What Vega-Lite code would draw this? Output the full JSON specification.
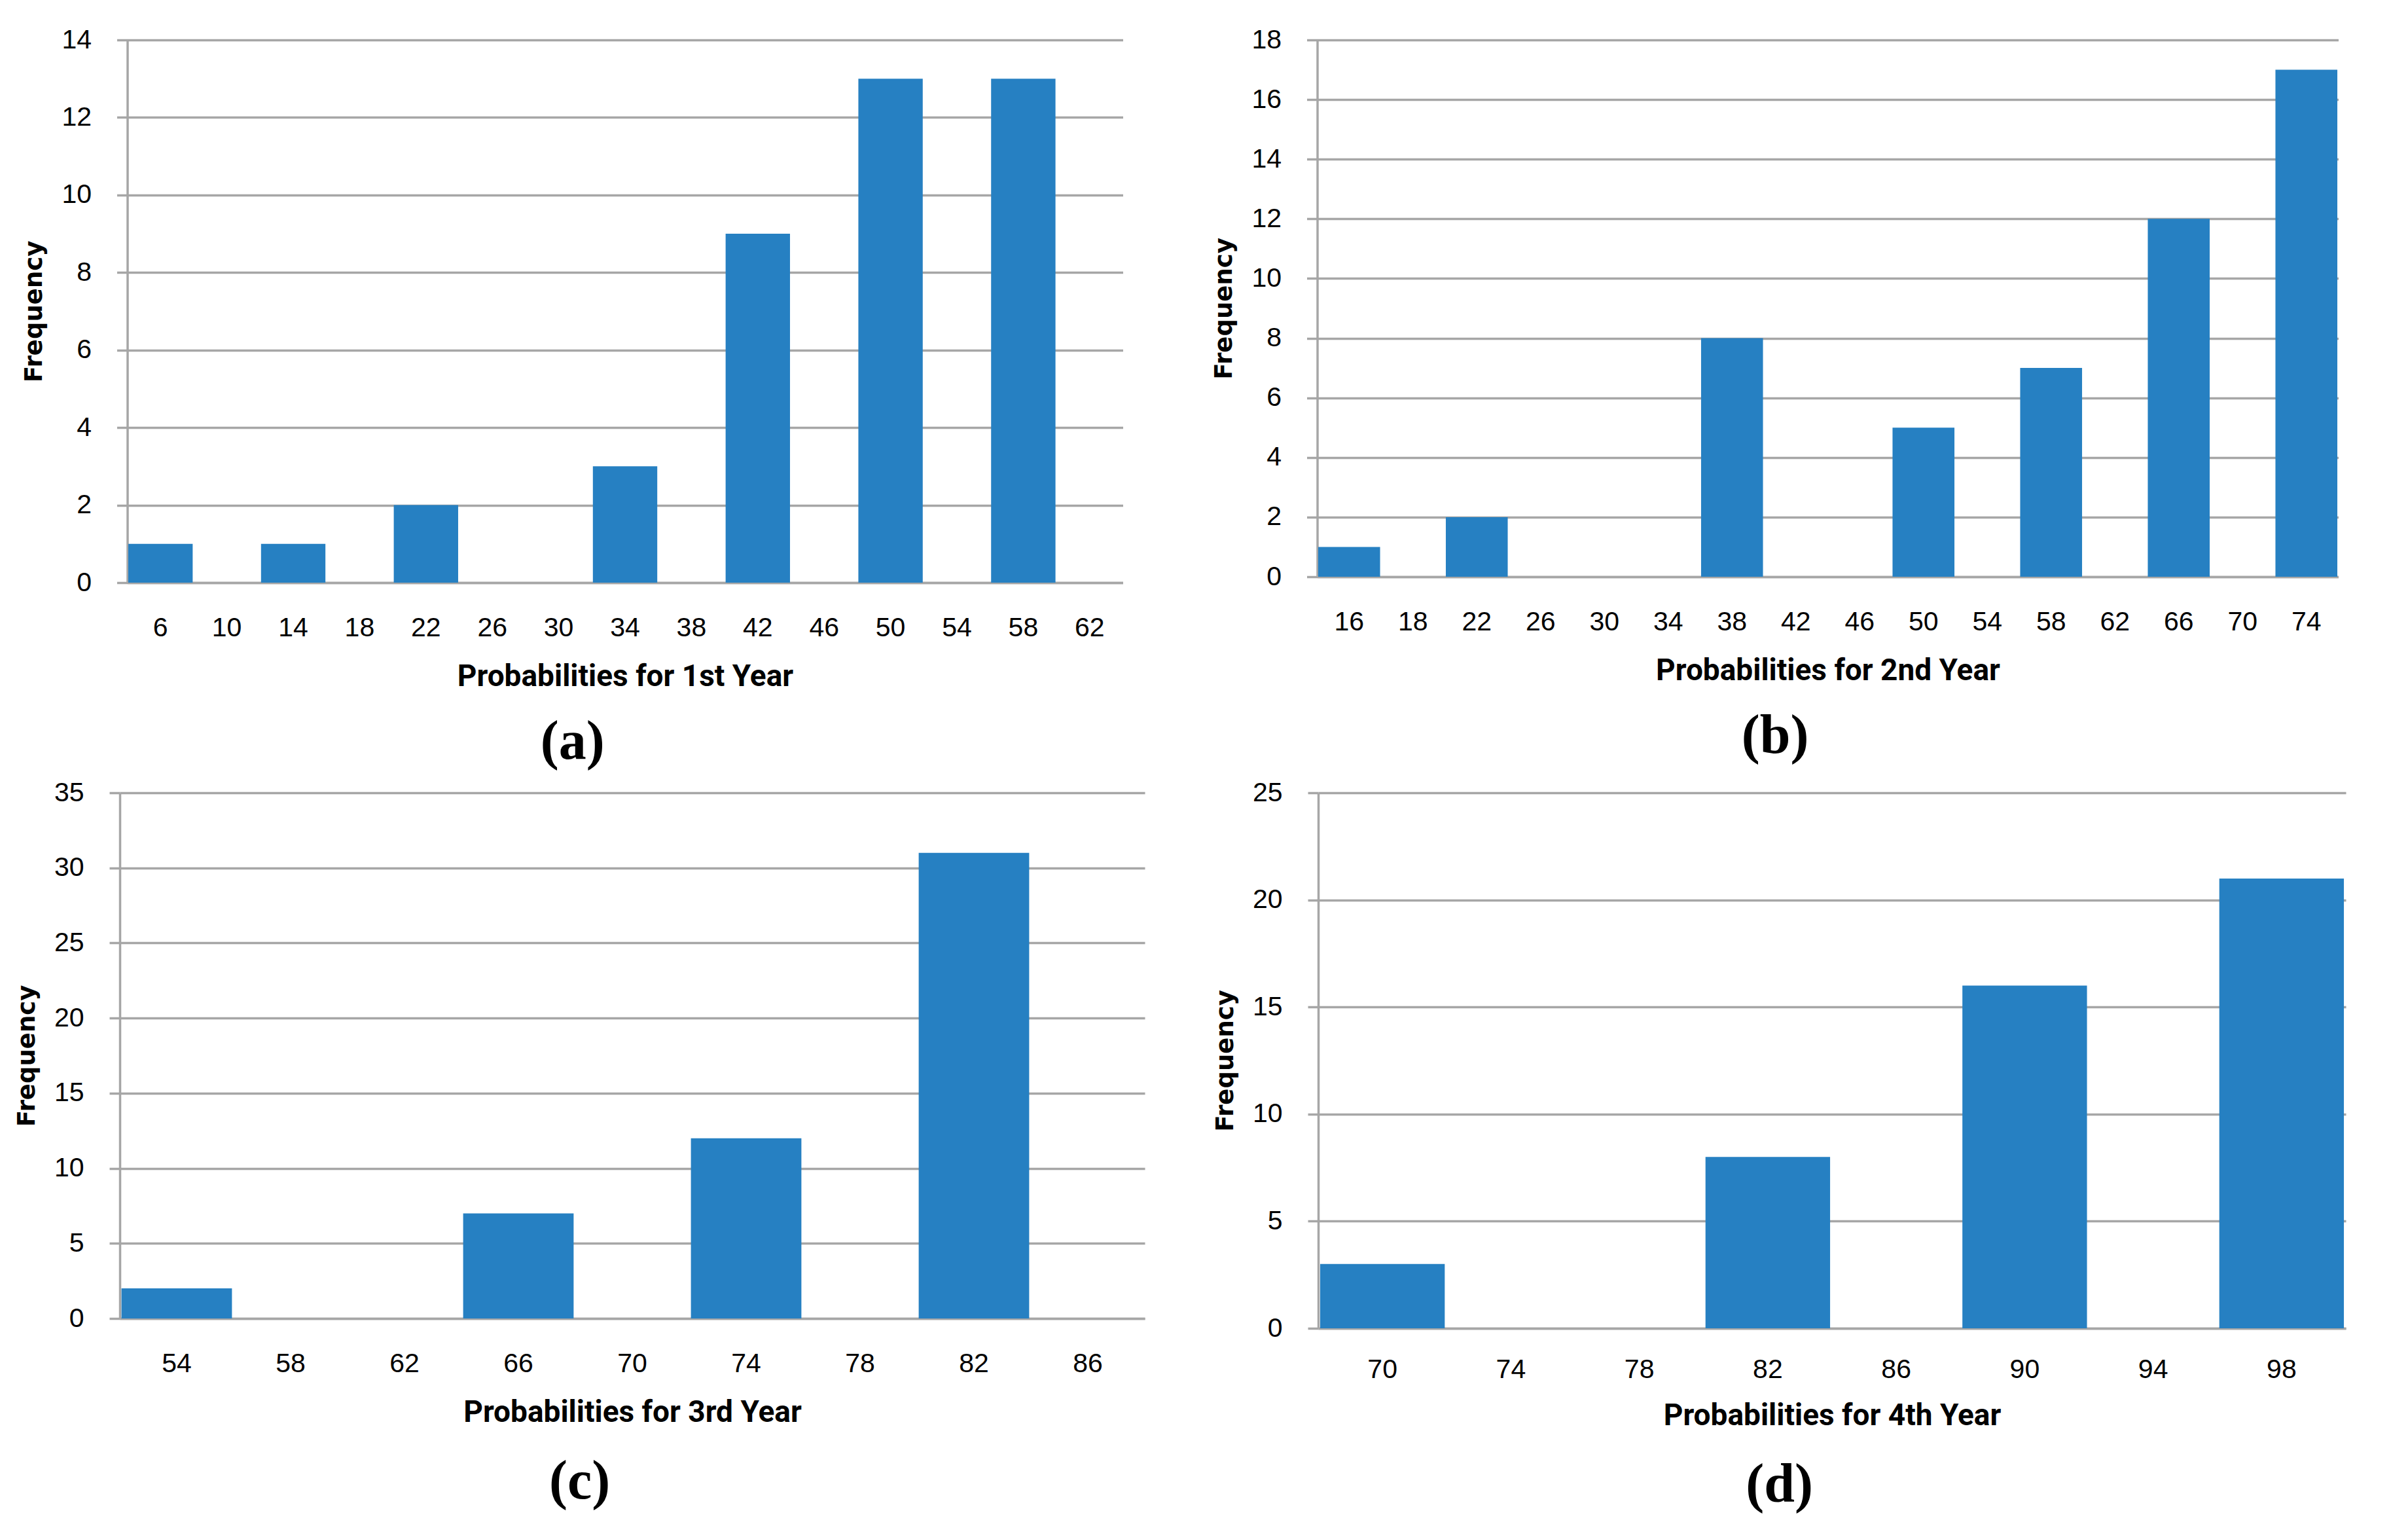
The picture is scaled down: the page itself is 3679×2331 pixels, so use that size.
{
  "$schema": "https://vega.github.io/schema/vega-lite/v6.json",
  "padding": {"left": 22, "top": 40, "right": 20, "bottom": 20},
  "autosize": {"type": "pad"},
  "background": "white",
  "data": {"values": [
    {"panel": "a", "prob": 6, "freq": 1}, {"panel": "a", "prob": 10, "freq": 0}, {"panel": "a", "prob": 14, "freq": 1},
    {"panel": "a", "prob": 18, "freq": 0}, {"panel": "a", "prob": 22, "freq": 2}, {"panel": "a", "prob": 26, "freq": 0},
    {"panel": "a", "prob": 30, "freq": 0}, {"panel": "a", "prob": 34, "freq": 3}, {"panel": "a", "prob": 38, "freq": 0},
    {"panel": "a", "prob": 42, "freq": 9}, {"panel": "a", "prob": 46, "freq": 0}, {"panel": "a", "prob": 50, "freq": 13},
    {"panel": "a", "prob": 54, "freq": 0}, {"panel": "a", "prob": 58, "freq": 13}, {"panel": "a", "prob": 62, "freq": 0},
    {"panel": "b", "prob": 16, "freq": 1}, {"panel": "b", "prob": 18, "freq": 0}, {"panel": "b", "prob": 22, "freq": 2},
    {"panel": "b", "prob": 26, "freq": 0}, {"panel": "b", "prob": 30, "freq": 0}, {"panel": "b", "prob": 34, "freq": 0},
    {"panel": "b", "prob": 38, "freq": 8}, {"panel": "b", "prob": 42, "freq": 0}, {"panel": "b", "prob": 46, "freq": 0},
    {"panel": "b", "prob": 50, "freq": 5}, {"panel": "b", "prob": 54, "freq": 0}, {"panel": "b", "prob": 58, "freq": 7},
    {"panel": "b", "prob": 62, "freq": 0}, {"panel": "b", "prob": 66, "freq": 12}, {"panel": "b", "prob": 70, "freq": 0},
    {"panel": "b", "prob": 74, "freq": 17},
    {"panel": "c", "prob": 54, "freq": 2}, {"panel": "c", "prob": 58, "freq": 0}, {"panel": "c", "prob": 62, "freq": 0},
    {"panel": "c", "prob": 66, "freq": 7}, {"panel": "c", "prob": 70, "freq": 0}, {"panel": "c", "prob": 74, "freq": 12},
    {"panel": "c", "prob": 78, "freq": 0}, {"panel": "c", "prob": 82, "freq": 31}, {"panel": "c", "prob": 86, "freq": 0},
    {"panel": "d", "prob": 70, "freq": 3}, {"panel": "d", "prob": 74, "freq": 0}, {"panel": "d", "prob": 78, "freq": 0},
    {"panel": "d", "prob": 82, "freq": 8}, {"panel": "d", "prob": 86, "freq": 0}, {"panel": "d", "prob": 90, "freq": 16},
    {"panel": "d", "prob": 94, "freq": 0}, {"panel": "d", "prob": 98, "freq": 21}
  ]},
  "center": true,
  "spacing": 14,
  "vconcat": [
    {
      "bounds": "flush",
      "spacing": 297,
      "hconcat": [
        {
          "width": 1521, "height": 829,
          "title": {"text": "(a)", "offset": 37},
          "transform": [{"filter": "datum.panel === 'a'"}],
          "mark": {"type": "bar"},
          "encoding": {
            "x": {"field": "prob", "type": "ordinal", "title": "Probabilities for 1st Year",
                  "scale": {"paddingInner": 0.03, "paddingOuter": 0.015}},
            "y": {"field": "freq", "type": "quantitative", "title": "Frequency",
                  "scale": {"domain": [0, 14], "nice": false},
                  "axis": {"values": [0, 2, 4, 6, 8, 10, 12, 14]}}
          }
        },
        {
          "width": 1560, "height": 820,
          "title": {"text": "(b)", "offset": 37},
          "transform": [{"filter": "datum.panel === 'b'"}],
          "mark": {"type": "bar"},
          "encoding": {
            "x": {"field": "prob", "type": "ordinal", "title": "Probabilities for 2nd Year",
                  "scale": {"paddingInner": 0.03, "paddingOuter": 0.015}},
            "y": {"field": "freq", "type": "quantitative", "title": "Frequency",
                  "scale": {"domain": [0, 18], "nice": false},
                  "axis": {"values": [0, 2, 4, 6, 8, 10, 12, 14, 16, 18]}}
          }
        }
      ]
    },
    {
      "bounds": "flush",
      "spacing": 265,
      "hconcat": [
        {
          "width": 1566, "height": 803,
          "title": {"text": "(c)"},
          "transform": [{"filter": "datum.panel === 'c'"}],
          "mark": {"type": "bar"},
          "encoding": {
            "x": {"field": "prob", "type": "ordinal", "title": "Probabilities for 3rd Year",
                  "scale": {"paddingInner": 0.03, "paddingOuter": 0.015}},
            "y": {"field": "freq", "type": "quantitative", "title": "Frequency",
                  "scale": {"domain": [0, 35], "nice": false},
                  "axis": {"values": [0, 5, 10, 15, 20, 25, 30, 35]}}
          }
        },
        {
          "width": 1570, "height": 818,
          "title": {"text": "(d)"},
          "transform": [{"filter": "datum.panel === 'd'"}],
          "mark": {"type": "bar"},
          "encoding": {
            "x": {"field": "prob", "type": "ordinal", "title": "Probabilities for 4th Year",
                  "scale": {"paddingInner": 0.03, "paddingOuter": 0.015},
                  "axis": {"labelPadding": 43, "titlePadding": 28}},
            "y": {"field": "freq", "type": "quantitative", "title": "Frequency",
                  "scale": {"domain": [0, 25], "nice": false},
                  "axis": {"values": [0, 5, 10, 15, 20, 25]}}
          }
        }
      ]
    }
  ],
  "config": {
    "view": {"stroke": null},
    "font": "Liberation Sans",
    "axis": {
      "labelFont": "Liberation Sans", "labelFontSize": 41, "labelColor": "#000000",
      "gridColor": "#A6A6A6", "gridWidth": 3.5, "gridOpacity": 1,
      "domainColor": "#A6A6A6", "domainWidth": 3.5,
      "tickColor": "#A6A6A6", "tickWidth": 3.5,
      "titleColor": "#000000"
    },
    "axisX": {
      "ticks": false, "labelPadding": 49, "labelAngle": 0, "grid": false,
      "titleFont": "Roboto", "titleFontSize": 46, "titleFontWeight": "bold", "titlePadding": 32
    },
    "axisY": {
      "ticks": true, "tickSize": 16, "labelPadding": 39, "grid": true,
      "titleFont": "DejaVu Sans", "titleFontSize": 37, "titleFontWeight": "bold", "titlePadding": 22
    },
    "title": {
      "font": "Liberation Serif", "fontSize": 84, "fontWeight": "bold", "color": "#000000",
      "orient": "bottom", "anchor": "middle", "frame": "bounds", "offset": 43
    },
    "bar": {"color": "#2680C2"}
  }
}
